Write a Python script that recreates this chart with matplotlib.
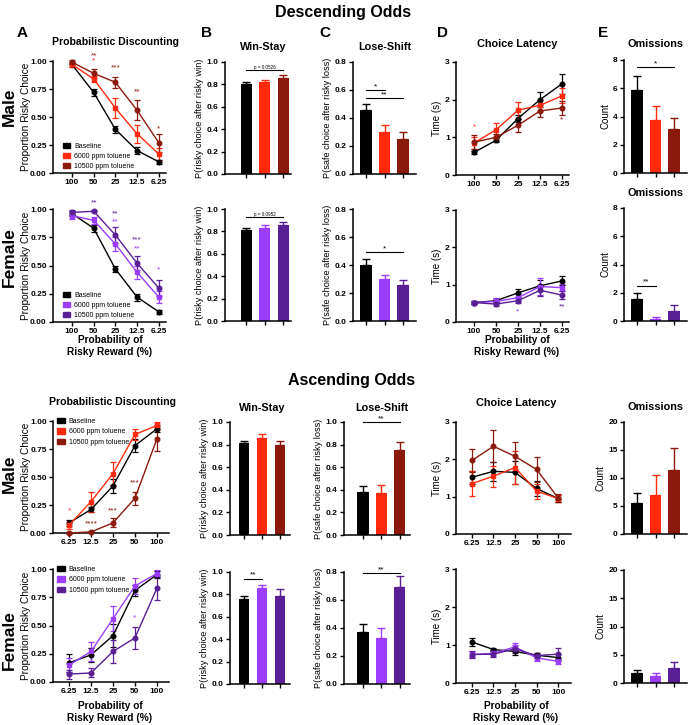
import matplotlib.pyplot as plt
import numpy as np
from matplotlib.patches import Patch

plt.rcParams['font.family'] = ['Liberation Sans', 'DejaVu Sans']
plt.rcParams['font.weight'] = 'bold'

W, H = 688, 725

# colours
black = '#000000'
red = '#ff2a0e'
dred = '#8c1a0c'
purp = '#9b3cff'
dpurp = '#5a1e95'
male_cols = [black, red, dred]
fem_cols = [black, purp, dpurp]
groups = ['Baseline', '6000 ppm toluene', '10500 ppm toluene']

desc_ticks = ['100', '50', '25', '12.5', '6.25']
asc_ticks = ['6.25', '12.5', '25', '50', '100']

# ---- descending odds ----
# probabilistic discounting (baseline, 6000, 10500)
dA_m = [[0.97, 0.72, 0.39, 0.20, 0.10], [0.97, 0.84, 0.58, 0.35, 0.17], [0.99, 0.89, 0.81, 0.56, 0.27]]
dA_m_err = [[0.02, 0.03, 0.03, 0.03, 0.02], [0.02, 0.03, 0.09, 0.08, 0.05], [0.02, 0.04, 0.05, 0.09, 0.08]]
dA_f = [[0.96, 0.83, 0.47, 0.22, 0.09], [0.94, 0.90, 0.69, 0.44, 0.22], [0.97, 0.98, 0.77, 0.52, 0.30]]
dA_f_err = [[0.02, 0.03, 0.03, 0.03, 0.02], [0.03, 0.03, 0.06, 0.06, 0.05], [0.02, 0.01, 0.07, 0.06, 0.07]]
# win-stay
dB_m = [0.80, 0.82, 0.86]
dB_m_err = [0.02, 0.02, 0.02]
dB_f = [0.81, 0.83, 0.86]
dB_f_err = [0.02, 0.03, 0.02]
# lose-shift
dC_m = [0.46, 0.30, 0.25]
dC_m_err = [0.04, 0.05, 0.05]
dC_f = [0.40, 0.30, 0.26]
dC_f_err = [0.04, 0.03, 0.03]
# choice latency
dD_m = [[0.60, 0.92, 1.50, 2.00, 2.42], [0.85, 1.20, 1.72, 1.85, 2.10], [0.87, 1.00, 1.32, 1.70, 1.78]]
dD_m_err = [[0.03, 0.05, 0.10, 0.20, 0.27], [0.15, 0.18, 0.22, 0.15, 0.20], [0.18, 0.10, 0.17, 0.17, 0.18]]
dD_f = [[0.52, 0.57, 0.78, 0.97, 1.10], [0.52, 0.55, 0.65, 0.95, 0.92], [0.52, 0.48, 0.57, 0.85, 0.72]]
dD_f_err = [[0.04, 0.04, 0.10, 0.15, 0.12], [0.05, 0.08, 0.10, 0.22, 0.10], [0.05, 0.05, 0.07, 0.15, 0.10]]
# omissions
dE_m = [5.85, 3.75, 3.15]
dE_m_err = [1.05, 1.00, 0.75]
dE_f = [1.55, 0.15, 0.70]
dE_f_err = [0.40, 0.15, 0.40]

# ---- ascending odds ----
aA_m = [[0.09, 0.21, 0.42, 0.78, 0.93], [0.07, 0.28, 0.53, 0.88, 0.96], [0.00, 0.01, 0.09, 0.31, 0.84]]
aA_m_err = [[0.03, 0.02, 0.06, 0.06, 0.03], [0.03, 0.09, 0.10, 0.05, 0.03], [0.01, 0.01, 0.04, 0.06, 0.11]]
aA_f = [[0.17, 0.24, 0.41, 0.81, 0.95], [0.15, 0.27, 0.56, 0.85, 0.96], [0.07, 0.08, 0.27, 0.39, 0.83]]
aA_f_err = [[0.08, 0.06, 0.10, 0.05, 0.03], [0.06, 0.08, 0.11, 0.07, 0.03], [0.04, 0.04, 0.10, 0.10, 0.10]]
aB_m = [0.81, 0.86, 0.80]
aB_m_err = [0.02, 0.03, 0.03]
aB_f = [0.76, 0.86, 0.79]
aB_f_err = [0.03, 0.02, 0.06]
aC_m = [0.38, 0.37, 0.75]
aC_m_err = [0.05, 0.07, 0.07]
aC_f = [0.37, 0.33, 0.69]
aC_f_err = [0.06, 0.07, 0.08]
aD_m = [[1.52, 1.68, 1.65, 1.22, 0.95], [1.35, 1.55, 1.78, 1.15, 0.95], [1.97, 2.35, 2.08, 1.73, 0.97]]
aD_m_err = [[0.17, 0.25, 0.30, 0.20, 0.10], [0.33, 0.28, 0.45, 0.20, 0.10], [0.32, 0.43, 0.38, 0.33, 0.10]]
aD_f = [[1.08, 0.88, 0.83, 0.73, 0.67], [0.75, 0.78, 0.95, 0.66, 0.57], [0.75, 0.76, 0.90, 0.72, 0.76]]
aD_f_err = [[0.10, 0.05, 0.10, 0.05, 0.10], [0.07, 0.07, 0.10, 0.07, 0.07], [0.08, 0.07, 0.10, 0.07, 0.15]]
aE_m = [5.6, 7.0, 11.4]
aE_m_err = [1.8, 3.5, 3.9]
aE_f = [1.7, 1.2, 2.7]
aE_f_err = [0.6, 0.5, 1.0]

fig = plt.figure(figsize=(W / 100, H / 100), dpi=100, facecolor='white')


def axes_px(x0, y0, x1, y1):
    return fig.add_axes([x0 / W, 1 - y1 / H, (x1 - x0) / W, (y1 - y0) / H])


def ftext(x, y, s, **kw):
    fig.text(x / W, 1 - y / H, s, **kw)


def style(ax, ylim, yticks, fmt, ylabel, yfs=6.6, label_px=None):
    ax.spines['top'].set_visible(False)
    ax.spines['right'].set_visible(False)
    ax.spines['left'].set_linewidth(1.1)
    ax.spines['bottom'].set_linewidth(1.1)
    ax.tick_params(labelsize=6, width=1, length=3, pad=1.5)
    ax.set_ylim(ylim)
    ax.set_yticks(yticks)
    ax.set_yticklabels([fmt.format(v) for v in yticks])
    ax.set_ylabel(ylabel, fontsize=yfs, fontweight='normal', labelpad=2)
    if label_px is not None:
        ax.yaxis.set_label_coords(-label_px / (ax.get_position().width * W), 0.5)


def line_panel(ax, means, errs, cols, ticks, xlim):
    x = np.arange(5)
    for m, e, c, mk in zip(means, errs, cols, ['o', 's', 'o']):
        ax.errorbar(x, m, yerr=e, color=c, marker=mk, ms=3.3, lw=1, elinewidth=0.9,
                    capsize=2.4, capthick=0.9, clip_on=False, zorder=3)
    ax.set_xticks(x)
    ax.set_xticklabels(ticks)
    ax.set_xlim(xlim)


def bar_panel(ax, means, errs, cols, xlim):
    x = np.arange(3)
    ax.bar(x, means, width=0.6, color=cols, zorder=2)
    for xi, m, e, c in zip(x, means, errs, cols):
        ax.errorbar([xi], [m], yerr=[[0], [e]], fmt='none', ecolor=c, elinewidth=1,
                    capsize=2.6, capthick=1, clip_on=False, zorder=2)
    ax.set_xticks(x)
    ax.set_xticklabels([])
    ax.set_xlim(xlim)


def sig(ax, x0, x1, y, txt, fs=6):
    ax.plot([x0, x1], [y, y], color='k', lw=0.8, clip_on=False)
    ax.text((x0 + x1) / 2, y, txt, ha='center', va='bottom', fontsize=fs, fontweight='normal')


def stars(ax, x, y, txt, c):
    ax.text(x, y, txt, color=c, ha='center', va='center', fontsize=6, fontweight='normal')


def legend(ax, cols, loc, anchor):
    handles = [Patch(facecolor=c, edgecolor=c) for c in cols]
    ax.legend(handles, groups, loc=loc, bbox_to_anchor=anchor, frameon=False,
              prop={'size': 5, 'weight': 'normal'}, handlelength=1.1, handleheight=0.8,
              handletextpad=0.6, labelspacing=0.45, borderaxespad=0)


prop_ticks = [0, 0.25, 0.5, 0.75, 1.0]
xlab = 'Probability of\nRisky Reward (%)'

# ================= Descending =================
ftext(343, 12, 'Descending Odds', fontsize=11.5, ha='center', va='center')
for lx, lt in zip([22, 207, 325, 442, 603], 'ABCDE'):
    ftext(lx, 33, lt, fontsize=11, ha='center', va='center')
ftext(116, 42, 'Probabilistic Discounting', fontsize=7.6, ha='center', va='center')
ftext(263, 47, 'Win-Stay', fontsize=7.8, ha='center', va='center')
ftext(385, 47, 'Lose-Shift', fontsize=7.8, ha='center', va='center')
ftext(517, 44, 'Choice Latency', fontsize=7.8, ha='center', va='center')
ftext(656, 44, 'Omissions', fontsize=7.8, ha='center', va='center')
ftext(656, 193, 'Omissions', fontsize=7.8, ha='center', va='center')
ftext(9, 107, 'Male', fontsize=12.5, rotation=90, ha='center', va='center')
ftext(9, 257, 'Female', fontsize=12.5, rotation=90, ha='center', va='center')

ax = axes_px(53, 61, 166, 173)
line_panel(ax, dA_m, dA_m_err, male_cols, desc_ticks, (-0.87, 4.33))
style(ax, (0, 1), prop_ticks, '{:.2f}', 'Proportion Risky Choice', 7.3, 22)
legend(ax, male_cols, 'lower left', (0.06, 0.0))
stars(ax, 1, 1.05, '**', dred)
stars(ax, 1, 1.0, '*', red)
stars(ax, 2, 0.94, '***', dred)
stars(ax, 3, 0.72, '**', dred)
stars(ax, 4, 0.39, '*', dred)

ax = axes_px(53, 209, 166, 322)
line_panel(ax, dA_f, dA_f_err, fem_cols, desc_ticks, (-0.87, 4.33))
style(ax, (0, 1), prop_ticks, '{:.2f}', 'Proportion Risky Choice', 7.3, 22)
legend(ax, fem_cols, 'lower left', (0.06, 0.0))
stars(ax, 1, 1.05, '**', dpurp)
stars(ax, 2, 0.96, '**', dpurp)
stars(ax, 2, 0.885, '**', purp)
stars(ax, 3, 0.73, '***', dpurp)
stars(ax, 3, 0.65, '**', purp)
stars(ax, 4, 0.46, '*', purp)
ftext(110, 346, xlab, fontsize=7.3, ha='center', va='center', linespacing=1.3)

ax = axes_px(225, 62, 291, 174)
bar_panel(ax, dB_m, dB_m_err, male_cols, (-1.14, 2.43))
style(ax, (0, 1), [0, 0.2, 0.4, 0.6, 0.8, 1.0], '{:.1f}', 'P(risky choice after risky win)')
sig(ax, 0, 2, 0.93, 'p = 0.0526', 3.3)

ax = axes_px(225, 209, 291, 321)
bar_panel(ax, dB_f, dB_f_err, fem_cols, (-1.14, 2.43))
style(ax, (0, 1), [0, 0.2, 0.4, 0.6, 0.8, 1.0], '{:.1f}', 'P(risky choice after risky win)')
sig(ax, 0, 2, 0.93, 'p = 0.0952', 3.3)

ax = axes_px(353, 62, 416, 174)
bar_panel(ax, dC_m, dC_m_err, male_cols, (-0.7, 2.7))
style(ax, (0, 0.8), [0, 0.2, 0.4, 0.6, 0.8], '{:.1f}', 'P(safe choice after risky loss)')
sig(ax, 0, 1, 0.60, '*')
sig(ax, 0, 2, 0.54, '**')

ax = axes_px(353, 209, 416, 321)
bar_panel(ax, dC_f, dC_f_err, fem_cols, (-0.7, 2.7))
style(ax, (0, 0.8), [0, 0.2, 0.4, 0.6, 0.8], '{:.1f}', 'P(safe choice after risky loss)')
sig(ax, 0, 2, 0.49, '*')

ax = axes_px(456, 62, 569, 175)
line_panel(ax, dD_m, dD_m_err, male_cols, desc_ticks, (-0.82, 4.32))
style(ax, (0, 3), [0, 1, 2, 3], '{:.0f}', 'Time (s)', 7)
stars(ax, 0, 1.27, '*', red)
stars(ax, 4, 1.46, '*', dred)

ax = axes_px(456, 210, 569, 322)
line_panel(ax, dD_f, dD_f_err, fem_cols, desc_ticks, (-0.82, 4.32))
style(ax, (0, 3), [0, 1, 2, 3], '{:.0f}', 'Time (s)', 7)
stars(ax, 2, 0.27, '*', purp)
stars(ax, 4, 0.40, '**', dpurp)
ftext(517, 346, xlab, fontsize=7.3, ha='center', va='center', linespacing=1.3)

ax = axes_px(624, 60, 687, 173)
bar_panel(ax, dE_m, dE_m_err, male_cols, (-0.7, 2.7))
style(ax, (0, 8), [0, 2, 4, 6, 8], '{:.0f}', 'Count', 7)
sig(ax, 0, 2, 7.5, '*')

ax = axes_px(624, 208, 687, 321)
bar_panel(ax, dE_f, dE_f_err, fem_cols, (-0.7, 2.7))
style(ax, (0, 8), [0, 2, 4, 6, 8], '{:.0f}', 'Count', 7)
sig(ax, 0, 1, 2.5, '**')

# ================= Ascending =================
ftext(352, 381, 'Ascending Odds', fontsize=11.5, ha='center', va='center')
ftext(112, 402, 'Probabilistic Discounting', fontsize=7.6, ha='center', va='center')
ftext(262, 408, 'Win-Stay', fontsize=7.8, ha='center', va='center')
ftext(382, 408, 'Lose-Shift', fontsize=7.8, ha='center', va='center')
ftext(516, 403, 'Choice Latency', fontsize=7.8, ha='center', va='center')
ftext(656, 407, 'Omissions', fontsize=7.8, ha='center', va='center')
ftext(9, 474, 'Male', fontsize=12.5, rotation=90, ha='center', va='center')
ftext(9, 640, 'Female', fontsize=12.5, rotation=90, ha='center', va='center')

ax = axes_px(53, 421, 169, 533)
line_panel(ax, aA_m, aA_m_err, male_cols, asc_ticks, (-0.73, 4.55))
style(ax, (0, 1), prop_ticks, '{:.2f}', 'Proportion Risky Choice', 7.3, 22)
legend(ax, male_cols, 'upper left', (0.01, 1.05))
stars(ax, 0, 0.20, '*', red)
stars(ax, 1, 0.08, '****', dred)
stars(ax, 2, 0.20, '***', dred)
stars(ax, 3, 0.45, '***', dred)

ax = axes_px(53, 569, 169, 682)
line_panel(ax, aA_f, aA_f_err, fem_cols, asc_ticks, (-0.73, 4.55))
style(ax, (0, 1), prop_ticks, '{:.2f}', 'Proportion Risky Choice', 7.3, 22)
legend(ax, fem_cols, 'upper left', (0.01, 1.05))
stars(ax, 3, 0.57, '*', purp)
ftext(110, 712, xlab, fontsize=7.3, ha='center', va='center', linespacing=1.3)

ax = axes_px(230, 422, 290, 535)
bar_panel(ax, aB_m, aB_m_err, male_cols, (-0.78, 2.55))
style(ax, (0, 1), [0, 0.2, 0.4, 0.6, 0.8, 1.0], '{:.1f}', 'P(risky choice after risky win)')

ax = axes_px(230, 572, 290, 684)
bar_panel(ax, aB_f, aB_f_err, fem_cols, (-0.78, 2.55))
style(ax, (0, 1), [0, 0.2, 0.4, 0.6, 0.8, 1.0], '{:.1f}', 'P(risky choice after risky win)')
sig(ax, 0, 1, 0.94, '**')

ax = axes_px(344, 422, 410, 535)
bar_panel(ax, aC_m, aC_m_err, male_cols, (-1.03, 2.55))
style(ax, (0, 1), [0, 0.2, 0.4, 0.6, 0.8, 1.0], '{:.1f}', 'P(safe choice after risky loss)')
sig(ax, 0, 2, 1.0, '**')

ax = axes_px(344, 572, 410, 684)
bar_panel(ax, aC_f, aC_f_err, fem_cols, (-1.03, 2.55))
style(ax, (0, 0.8), [0, 0.2, 0.4, 0.6, 0.8], '{:.1f}', 'P(safe choice after risky loss)')
sig(ax, 0, 2, 0.79, '**')

ax = axes_px(456, 422, 571, 534)
line_panel(ax, aD_m, aD_m_err, male_cols, asc_ticks, (-0.74, 4.6))
style(ax, (0, 3), [0, 1, 2, 3], '{:.0f}', 'Time (s)', 7)

ax = axes_px(456, 569, 571, 683)
line_panel(ax, aD_f, aD_f_err, fem_cols, asc_ticks, (-0.74, 4.6))
style(ax, (0, 3), [0, 1, 2, 3], '{:.0f}', 'Time (s)', 7)
ftext(516, 712, xlab, fontsize=7.3, ha='center', va='center', linespacing=1.3)

ax = axes_px(624, 422, 687, 534)
bar_panel(ax, aE_m, aE_m_err, male_cols, (-0.7, 2.7))
style(ax, (0, 20), [0, 5, 10, 15, 20], '{:.0f}', 'Count', 7)

ax = axes_px(624, 570, 687, 683)
bar_panel(ax, aE_f, aE_f_err, fem_cols, (-0.7, 2.7))
style(ax, (0, 20), [0, 5, 10, 15, 20], '{:.0f}', 'Count', 7)

plt.savefig('out.png', dpi=100, facecolor='white')
